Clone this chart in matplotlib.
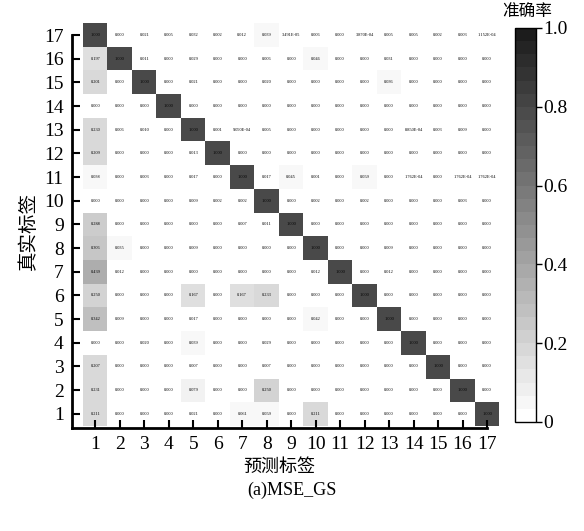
import numpy as np
import matplotlib
matplotlib.use('Agg')
import matplotlib.pyplot as plt
from matplotlib.colors import LinearSegmentedColormap, Normalize
import matplotlib.cm as cm

plt.rcParams['font.family'] = ['Liberation Serif', 'Noto Sans CJK SC']

# labels 17 (top row) down to 1 (bottom row), predicted 1..17
true_labels = list(range(17, 0, -1))
pred_labels = list(range(1, 18))

r17 = [1.000, 0.000, 0.021, 0.005, 0.032, 0.002, 0.012, 0.039, 3.491e-05, 0.006, 0.000, 3.870e-04, 0.005, 0.005, 0.002, 0.003, 1.152e-04]
r16 = [0.197, 1.000, 0.011, 0.000, 0.029, 0.000, 0.000, 0.006, 0.000, 0.046, 0.000, 0.000, 0.031, 0.000, 0.000, 0.000, 0.000]
r15 = [0.201, 0.000, 1.000, 0.000, 0.021, 0.000, 0.000, 0.020, 0.000, 0.000, 0.000, 0.000, 0.036, 0.000, 0.000, 0.000, 0.000]
r14 = [0.000, 0.000, 0.000, 1.000, 0.000, 0.000, 0.000, 0.000, 0.000, 0.000, 0.000, 0.000, 0.000, 0.000, 0.000, 0.000, 0.000]
r13 = [0.230, 0.006, 0.010, 0.000, 1.000, 0.001, 9.090e-04, 0.005, 0.000, 0.000, 0.000, 0.000, 0.000, 8.850e-04, 0.003, 0.009, 0.000]
r12 = [0.209, 0.000, 0.000, 0.000, 0.013, 1.000, 0.000, 0.000, 0.000, 0.000, 0.000, 0.000, 0.000, 0.000, 0.000, 0.000, 0.000]
r11 = [0.038, 0.000, 0.003, 0.000, 0.017, 0.000, 1.000, 0.017, 0.045, 0.001, 0.000, 0.059, 0.000, 1.762e-04, 0.000, 1.762e-04, 1.762e-04]
r10 = [0.000, 0.000, 0.000, 0.000, 0.009, 0.002, 0.002, 1.000, 0.000, 0.002, 0.000, 0.002, 0.000, 0.000, 0.000, 0.003, 0.000]
r9 = [0.288, 0.000, 0.000, 0.000, 0.000, 0.000, 0.007, 0.011, 1.000, 0.000, 0.000, 0.000, 0.000, 0.000, 0.000, 0.000, 0.000]
r8 = [0.306, 0.035, 0.000, 0.000, 0.009, 0.000, 0.000, 0.000, 0.000, 1.000, 0.000, 0.000, 0.009, 0.000, 0.000, 0.000, 0.000]
r7 = [0.439, 0.012, 0.000, 0.000, 0.000, 0.000, 0.000, 0.000, 0.000, 0.012, 1.000, 0.000, 0.012, 0.000, 0.000, 0.000, 0.000]
r6 = [0.250, 0.000, 0.000, 0.000, 0.167, 0.000, 0.167, 0.233, 0.000, 0.000, 0.000, 1.000, 0.000, 0.000, 0.000, 0.000, 0.000]
r5 = [0.342, 0.009, 0.000, 0.000, 0.017, 0.000, 0.000, 0.000, 0.000, 0.042, 0.000, 0.000, 1.000, 0.000, 0.000, 0.000, 0.000]
r4 = [0.000, 0.000, 0.020, 0.000, 0.039, 0.000, 0.000, 0.029, 0.000, 0.000, 0.000, 0.000, 0.000, 1.000, 0.000, 0.000, 0.000]
r3 = [0.207, 0.000, 0.000, 0.000, 0.007, 0.000, 0.000, 0.007, 0.000, 0.000, 0.000, 0.000, 0.000, 0.000, 1.000, 0.000, 0.000]
r2 = [0.231, 0.000, 0.000, 0.000, 0.079, 0.000, 0.000, 0.250, 0.000, 0.000, 0.000, 0.000, 0.000, 0.000, 0.000, 1.000, 0.000]
r1 = [0.211, 0.000, 0.000, 0.000, 0.021, 0.000, 0.061, 0.059, 0.000, 0.211, 0.000, 0.000, 0.000, 0.000, 0.000, 0.000, 1.000]

cm_data = np.array([r17, r16, r15, r14, r13, r12, r11, r10, r9, r8, r7, r6, r5, r4, r3, r2, r1])

cmap = LinearSegmentedColormap.from_list('grey_acc', ['#ffffff', '#1c1c1c'], N=30)
norm = Normalize(0, 1)

fig = plt.figure(figsize=(5.84, 5.31), dpi=100)
ax = fig.add_axes([72/584, 1 - 428/531, 415/584, 393/531])

im = ax.imshow(cm_data, cmap=cmap, norm=norm, alpha=0.8, origin='upper',
               extent=(0.5, 17.5, 0.5, 17.5), aspect='auto', clip_on=False,
               interpolation='nearest')

for i, t in enumerate(true_labels):
    for j, p in enumerate(pred_labels):
        v = cm_data[i, j]
        if 0 < v < 0.001:
            s = '%.3E' % v
        else:
            s = '%.3f' % v
        ax.text(p, t, s, ha='center', va='center', fontsize=3.2, color='black',
                clip_on=False)

ax.set_xlim(0.04, 17)
ax.set_ylim(0.4, 17)
ax.set_xticks(pred_labels)
ax.set_yticks(pred_labels)
ax.tick_params(direction='in', length=6, width=1.5, labelsize=14, pad=6)
for s in ['top', 'right']:
    ax.spines[s].set_visible(False)
for s in ['left', 'bottom']:
    ax.spines[s].set_linewidth(2)

ax.set_xlabel('预测标签', fontsize=13, labelpad=4)
ax.set_ylabel('真实标签', fontsize=14, labelpad=4)

cax = fig.add_axes([515/584, 1 - 422/531, 21/584, 394/531])
sm = cm.ScalarMappable(norm=norm, cmap=cmap)
cb = fig.colorbar(sm, cax=cax)
cb.set_ticks([0, 0.2, 0.4, 0.6, 0.8, 1.0])
cb.set_ticklabels(['0', '0.2', '0.4', '0.6', '0.8', '1.0'])
cb.ax.tick_params(labelsize=14, length=4, width=1, pad=1)
cb.outline.set_linewidth(1)
fig.text(527/584, 1 - 13/531, '准确率', ha='center', va='center', fontsize=12)

fig.text(0.5, 1 - 490/531, '(a)MSE_GS', ha='center', va='center', fontsize=13)

fig.savefig('out.png', dpi=100)
